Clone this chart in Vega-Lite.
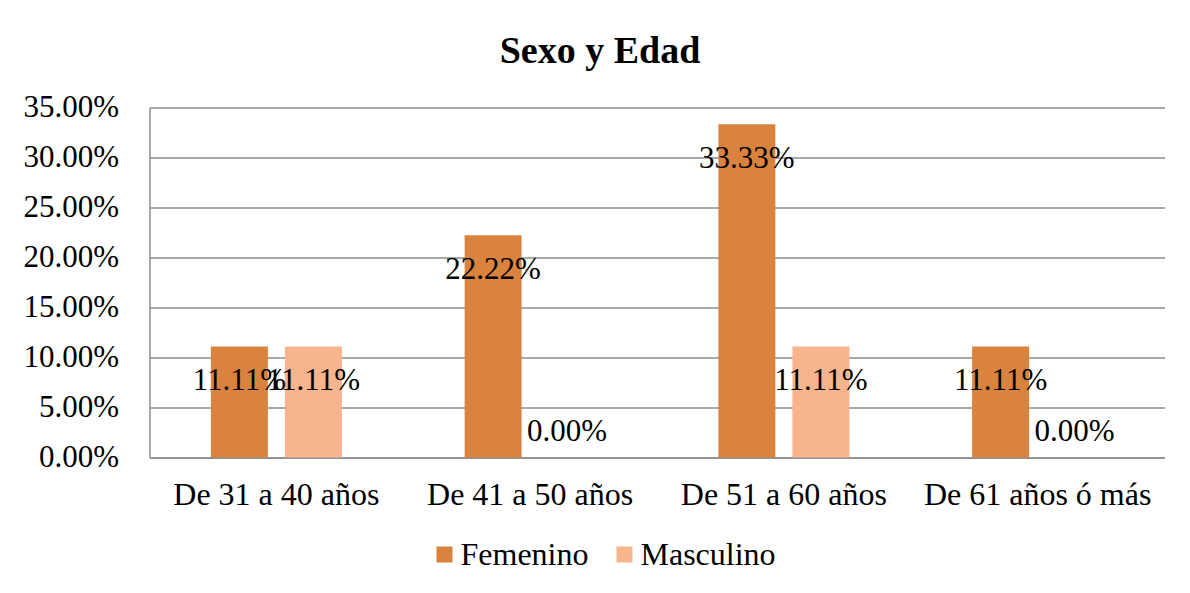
{
  "$schema": "https://vega.github.io/schema/vega-lite/v6.json",
  "width": 1015,
  "height": 350,
  "autosize": {"type": "none"},
  "padding": {"left": 149.5, "top": 107.5, "right": 25.5, "bottom": 135.5},
  "background": "white",
  "config": {
    "font": "Liberation Serif",
    "view": {"stroke": null},
    "axis": {"labelFont": "Liberation Serif", "labelFontSize": 32, "labelColor": "black", "labelLimit": 0}
  },
  "title": {
    "text": "Sexo y Edad",
    "font": "Liberation Serif",
    "fontSize": 38,
    "fontWeight": "bold",
    "color": "black",
    "anchor": "middle",
    "dx": -57,
    "offset": 21
  },
  "data": {
    "values": [
      {"grupo": "De 31 a 40 años", "sexo": "Femenino", "valor": 0.1111},
      {"grupo": "De 31 a 40 años", "sexo": "Masculino", "valor": 0.1111},
      {"grupo": "De 41 a 50 años", "sexo": "Femenino", "valor": 0.2222},
      {"grupo": "De 41 a 50 años", "sexo": "Masculino", "valor": 0.0},
      {"grupo": "De 51 a 60 años", "sexo": "Femenino", "valor": 0.3333},
      {"grupo": "De 51 a 60 años", "sexo": "Masculino", "valor": 0.1111},
      {"grupo": "De 61 años ó más", "sexo": "Femenino", "valor": 0.1111},
      {"grupo": "De 61 años ó más", "sexo": "Masculino", "valor": 0.0}
    ]
  },
  "encoding": {
    "x": {
      "field": "grupo",
      "type": "nominal",
      "sort": null,
      "title": null,
      "scale": {"paddingInner": 0.4837, "paddingOuter": 0.2418},
      "axis": {
        "labelAngle": 0,
        "ticks": false,
        "domain": true,
        "domainColor": "#8c8c8c",
        "domainWidth": 1.5,
        "labelPadding": 22,
        "labelBaseline": "top",
        "labelLimit": 0,
        "grid": false
      }
    },
    "xOffset": {
      "field": "sexo",
      "type": "nominal",
      "scale": {"paddingInner": 0.23, "paddingOuter": 0}
    },
    "y": {
      "field": "valor",
      "type": "quantitative",
      "title": null,
      "scale": {"domain": [0, 0.35], "nice": false},
      "axis": {
        "format": ".2%",
        "values": [0, 0.05, 0.1, 0.15, 0.2, 0.25, 0.3, 0.35],
        "ticks": false,
        "labelFontSize": 31,
        "labelPadding": 31,
        "domainColor": "#8c8c8c",
        "domainWidth": 1.5,
        "gridColor": "#8c8c8c",
        "gridWidth": 1.5
      }
    }
  },
  "layer": [
    {
      "mark": {"type": "bar"},
      "encoding": {
        "color": {
          "field": "sexo",
          "type": "nominal",
          "scale": {"domain": ["Femenino", "Masculino"], "range": ["#DA833E", "#F7B48D"]},
          "legend": {
            "title": null,
            "orient": "none",
            "direction": "horizontal",
            "legendX": 279,
            "legendY": 431,
            "symbolType": "square",
            "symbolSize": 256,
            "symbolStrokeWidth": 0,
            "labelFont": "Liberation Serif",
            "labelFontSize": 32,
            "labelColor": "black",
            "labelOffset": 0,
            "columnPadding": 20
          }
        }
      }
    },
    {
      "transform": [{"filter": "datum.valor > 0"}],
      "mark": {"type": "text", "baseline": "middle", "dy": 35, "fontSize": 31, "font": "Liberation Serif", "color": "black"},
      "encoding": {"text": {"field": "valor", "type": "quantitative", "format": ".2%"}}
    },
    {
      "transform": [{"filter": "datum.valor == 0"}],
      "mark": {"type": "text", "baseline": "middle", "dy": -25.5, "fontSize": 31, "font": "Liberation Serif", "color": "black"},
      "encoding": {"text": {"field": "valor", "type": "quantitative", "format": ".2%"}}
    }
  ]
}
